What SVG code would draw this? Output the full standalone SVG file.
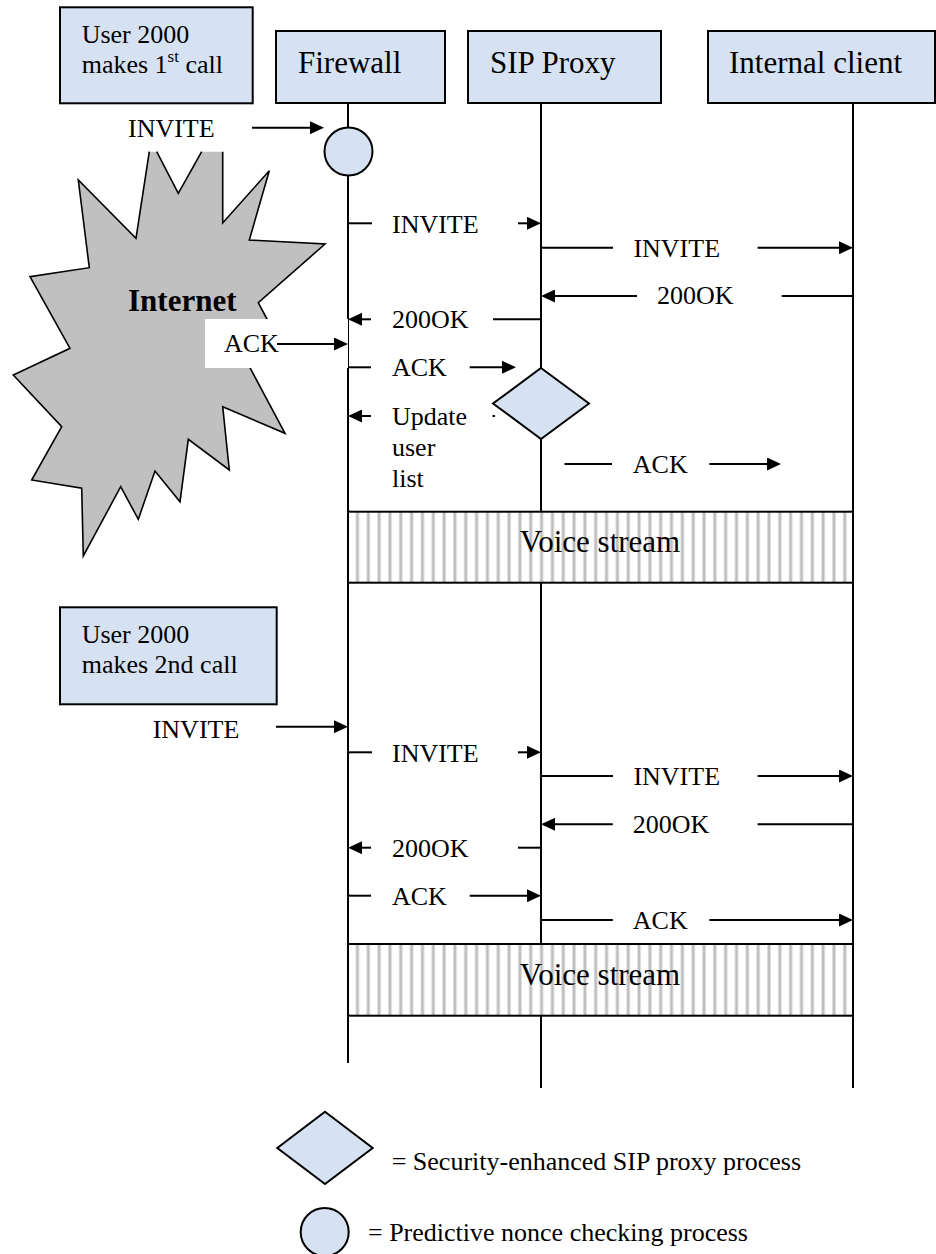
<svg xmlns="http://www.w3.org/2000/svg" width="936" height="1254" viewBox="0 0 936 1254">
<style>
.box{fill:#d6e2f2;stroke:#000;stroke-width:2}
.ll{stroke:#000;stroke-width:2;fill:none}
.m{stroke:#000;stroke-width:2;fill:none}
.ma{stroke:#000;stroke-width:2;fill:none;marker-end:url(#ah)}
.t{font-family:"Liberation Serif","Times New Roman",serif;font-size:26px;fill:#000}
.h{font-family:"Liberation Serif","Times New Roman",serif;font-size:31px;fill:#000}
.vs{fill:url(#stripes);stroke:#000;stroke-width:2}
</style>
<defs>
<marker id="ah" markerUnits="userSpaceOnUse" markerWidth="14" markerHeight="13" viewBox="0 0 14 13" refX="6" refY="6.5" orient="auto">
<path d="M0,0 L14,6.5 L0,13 z" fill="#000"/>
</marker>
<pattern id="stripes" patternUnits="userSpaceOnUse" x="353.5" y="0" width="10.83" height="20">
<rect x="0" y="0" width="10.83" height="20" fill="#fff"/>
<rect x="2" y="0" width="1" height="20" fill="#dcdcdc"/>
<rect x="3" y="0" width="2" height="20" fill="#bcbcbc"/>
<rect x="5" y="0" width="1" height="20" fill="#dcdcdc"/>
</pattern>
</defs>
<rect width="936" height="1254" fill="#fff"/>

<!-- Internet cloud -->
<g id="internet">
<polygon fill="#c0c0c0" stroke="none" points="149.3,151.7 156.7,151.7 178.3,193.3 201.7,151.7 222.7,151.7 222.7,223 269.3,170.7 249.3,240 325,244 258.3,302.7 276,336 238,348 250,367.7 285,433.3 222.7,406.7 229.3,470 188.3,439.3 180,501.7 155,471 138.3,519.3 120.7,486.7 83.3,556 81.7,488.3 31.7,480 61.7,426.7 13.3,375 70,348.3 30,276.7 89.3,267.7 78.3,180 136,238.3"/>
<path fill="none" stroke="#000" stroke-width="1.6" stroke-linejoin="miter" d="M156.7,151.7 L178.3,193.3 L201.7,151.7 M222.7,151.7 L222.7,223 L269.3,170.7 L249.3,240 L325,244 L258.3,302.7 L276,336 L238,348 L250,367.7 L285,433.3 L222.7,406.7 L229.3,470 L188.3,439.3 L180,501.7 L155,471 L138.3,519.3 L120.7,486.7 L83.3,556 L81.7,488.3 L31.7,480 L61.7,426.7 L13.3,375 L70,348.3 L30,276.7 L89.3,267.7 L78.3,180 L136,238.3 L149.3,151.7"/>
<text class="h" x="128" y="311" font-weight="bold">Internet</text>
</g>

<!-- Lifelines -->
<g id="lifelines">
<line class="ll" x1="348" y1="103" x2="348" y2="127.5"/>
<line class="ll" x1="348" y1="175.5" x2="348" y2="1063"/>
<line class="ll" x1="541" y1="103" x2="541" y2="1088"/>
<line class="ll" x1="853" y1="103" x2="853" y2="1088"/>
</g>

<!-- Header nodes -->
<g id="user1">
<rect class="box" x="60" y="7.3" width="192.7" height="96"/>
<text class="t" x="81.7" y="42.7">User 2000</text>
<text class="t" x="81.7" y="72.7">makes 1<tspan font-size="17" dy="-11">st</tspan><tspan dy="11"> call</tspan></text>
</g>
<g id="firewall">
<rect class="box" x="276" y="31" width="169" height="72"/>
<text class="h" x="298" y="72.7">Firewall</text>
</g>
<g id="sipproxy">
<rect class="box" x="468" y="31" width="193" height="72"/>
<text class="h" x="490" y="72.7">SIP Proxy</text>
</g>
<g id="internal">
<rect class="box" x="708" y="31" width="227" height="72"/>
<text class="h" x="729" y="72.7">Internal client</text>
</g>

<g id="nonce-check">
<circle class="box" cx="348.5" cy="151.5" r="24"/>
</g>

<!-- Voice streams -->
<g id="voice1">
<rect class="vs" x="348" y="511.7" width="505" height="71"/>
<text class="h" x="600" y="552" text-anchor="middle">Voice stream</text>
</g>
<g id="voice2">
<rect class="vs" x="348" y="944" width="505" height="71.7"/>
<text class="h" x="600" y="985" text-anchor="middle">Voice stream</text>
</g>

<g id="user2">
<rect class="box" x="60" y="607.3" width="216.7" height="97"/>
<text class="t" x="81.7" y="643.3">User 2000</text>
<text class="t" x="81.7" y="673.3">makes 2nd call</text>
</g>

<!-- Connectors -->
<g id="connectors">
<!-- first call -->
<line class="ma" x1="252" y1="127.7" x2="316" y2="127.7"/>
<text class="t" x="128" y="136.7">INVITE</text>

<line class="m" x1="348" y1="223.3" x2="372" y2="223.3"/>
<text class="t" x="392" y="232.7">INVITE</text>
<line class="ma" x1="518" y1="223.3" x2="533" y2="223.3"/>

<line class="m" x1="541" y1="247.7" x2="613" y2="247.7"/>
<text class="t" x="633.4" y="256.7">INVITE</text>
<line class="ma" x1="757.6" y1="247.7" x2="845" y2="247.7"/>

<line class="m" x1="853" y1="296" x2="781.7" y2="296"/>
<text class="t" x="657" y="304.3">200OK</text>
<line class="ma" x1="637" y1="296" x2="549" y2="296"/>

<line class="m" x1="541" y1="319.3" x2="493" y2="319.3"/>
<text class="t" x="392" y="328.3">200OK</text>
<line class="ma" x1="371" y1="319.3" x2="356" y2="319.3"/>

<rect x="205" y="319" width="143" height="49" fill="#fff"/>
<text class="t" x="224" y="352">ACK</text>
<line class="ma" x1="277" y1="344" x2="340" y2="344"/>

<line class="m" x1="348" y1="367.3" x2="371" y2="367.3"/>
<text class="t" x="392" y="376">ACK</text>
<line class="ma" x1="469.7" y1="367.3" x2="508" y2="367.3"/>

<line class="m" x1="492.5" y1="416" x2="495" y2="416"/>
<line class="ma" x1="371" y1="416" x2="356" y2="416"/>
<text class="t" x="392" y="425">Update</text>
<text class="t" x="392" y="456">user</text>
<text class="t" x="392" y="486.7">list</text>

<line class="m" x1="564.5" y1="464" x2="612" y2="464"/>
<text class="t" x="632.8" y="472.7">ACK</text>
<line class="ma" x1="709.3" y1="464" x2="773" y2="464"/>

<!-- second call -->
<line class="ma" x1="276" y1="726.7" x2="340" y2="726.7"/>
<text class="t" x="152.7" y="737.7">INVITE</text>

<line class="m" x1="348" y1="752.3" x2="372" y2="752.3"/>
<text class="t" x="392" y="761.7">INVITE</text>
<line class="ma" x1="518" y1="752.3" x2="533" y2="752.3"/>

<line class="m" x1="541" y1="776" x2="613" y2="776"/>
<text class="t" x="633.4" y="785">INVITE</text>
<line class="ma" x1="757.6" y1="776" x2="845" y2="776"/>

<line class="m" x1="853" y1="824.3" x2="757.6" y2="824.3"/>
<text class="t" x="632.8" y="833.3">200OK</text>
<line class="ma" x1="612.8" y1="824.3" x2="549" y2="824.3"/>

<line class="m" x1="541" y1="847.7" x2="518" y2="847.7"/>
<text class="t" x="392" y="856.7">200OK</text>
<line class="ma" x1="371" y1="847.7" x2="356" y2="847.7"/>

<line class="m" x1="348" y1="895.7" x2="371" y2="895.7"/>
<text class="t" x="392" y="905">ACK</text>
<line class="ma" x1="469.7" y1="895.7" x2="533" y2="895.7"/>

<line class="m" x1="541" y1="920" x2="612.8" y2="920"/>
<text class="t" x="632.8" y="929.3">ACK</text>
<line class="ma" x1="709.3" y1="920" x2="845" y2="920"/>
</g>

<g id="sip-process">
<polygon class="box" points="541,368 589,403.5 541,439 493,403.5"/>
</g>

<!-- Legend -->
<g id="legend">
<polygon class="box" points="325,1111.7 372.7,1148 325,1184 277.3,1148"/>
<text class="t" x="391.7" y="1170">= Security-enhanced SIP proxy process</text>
<circle class="box" cx="324.7" cy="1232" r="24"/>
<text class="t" x="368" y="1241">= Predictive nonce checking process</text>
</g>
</svg>
